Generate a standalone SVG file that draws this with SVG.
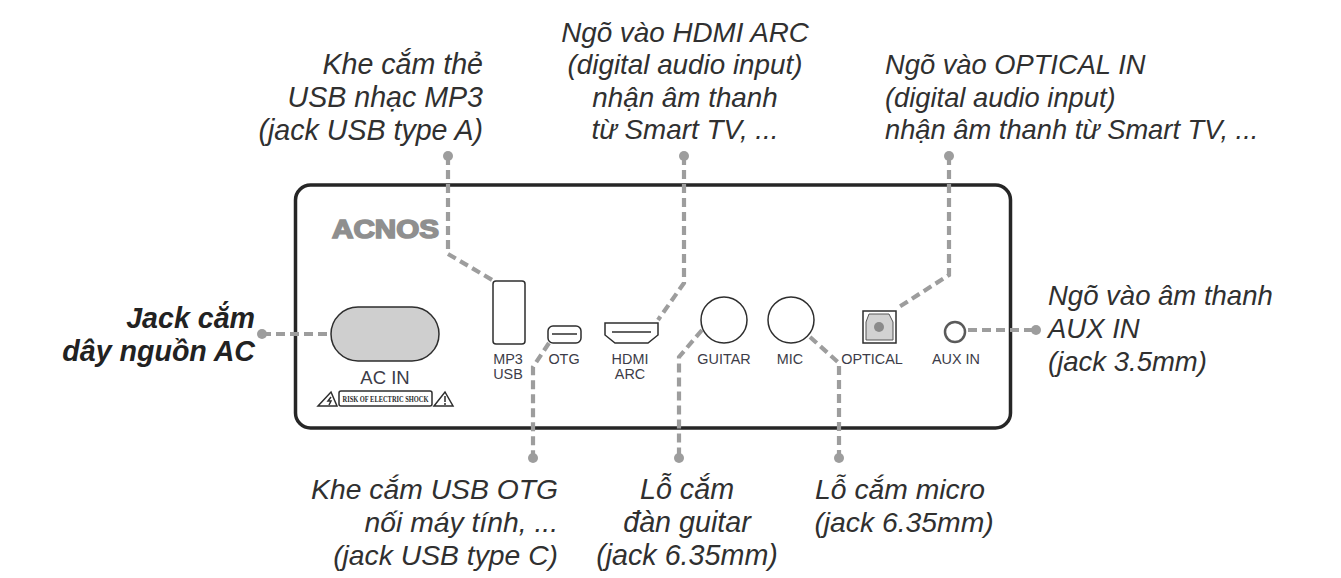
<svg xmlns="http://www.w3.org/2000/svg" width="1341" height="578" viewBox="0 0 1341 578">
<style>
text{font-family:"Liberation Sans",Arial,sans-serif;fill:#2b2b2b}
.c{font-style:italic;font-size:27.300px;fill:#303030}
.b{font-size:28.600px;font-weight:700;fill:#222}
.l{font-size:14.400px;fill:#3c3c48;text-anchor:middle}
.m{text-anchor:middle}.e{text-anchor:end}
.d{fill:none;stroke:#9d9d9d;stroke-width:4.2;stroke-dasharray:9 5}
.s{fill:none;stroke:#2e2e2e;stroke-width:1.5}
.dot{fill:#9d9d9d}
</style>
<rect width="1341" height="578" fill="#fff"/>
<g id="panel"><rect x="295.500" y="185" width="715" height="243" rx="15" fill="none" stroke="#262626" stroke-width="3.500"/></g>
<g id="connectors">
<path class="d" d="M448 156V254L494 281"/>
<path class="d" d="M684 156V283L658 320"/>
<path class="d" d="M949 156V275L899 307"/>
<path class="d" d="M262 334H331"/>
<path class="d" d="M968 330H1037"/>
<path class="d" d="M549 343L533 367V458"/>
<path class="d" d="M702 330L679 357V458"/>
<path class="d" d="M810 337L839 363V458"/>
<circle class="dot" cx="448" cy="156" r="5"/><circle class="dot" cx="684" cy="156" r="5"/><circle class="dot" cx="949" cy="156" r="5"/><circle class="dot" cx="262" cy="334" r="5"/><circle class="dot" cx="1036" cy="330" r="5"/><circle class="dot" cx="533" cy="458" r="5"/><circle class="dot" cx="679" cy="458" r="5"/><circle class="dot" cx="839" cy="458" r="5"/>
</g>
<g id="logo"><text x="332" y="238" font-size="26" font-weight="700" style="fill:#8f8f8f;stroke:#8f8f8f;stroke-width:1.6" textLength="107" lengthAdjust="spacingAndGlyphs">ACNOS</text></g>
<g id="ac-in"><rect x="331" y="307" width="108" height="54" rx="27" fill="#cfcfcf" stroke="#2e2e2e" stroke-width="1.500"/>
<text x="385" y="384" font-size="18.500" class="m" style="fill:#3c3c48">AC IN</text>
<path class="s" d="M318 406L331 392L337 406ZM434 406L445 392L453 406Z"/>
<rect x="339" y="391" width="93" height="15" rx="2" class="s"/>
<text x="385.500" y="402" font-size="8" font-weight="700" class="m" style="font-family:'Liberation Serif',serif" textLength="86" lengthAdjust="spacingAndGlyphs">RISK OF ELECTRIC SHOCK</text>
<path class="s" d="M331 397L328 401H331L329 405M445 396V402M445 403V405"/></g>
<g id="usb"><rect x="493" y="281" width="32" height="63" rx="3" class="s"/><text class="l" x="508" y="364">MP3</text><text class="l" x="508" y="379">USB</text></g>
<g id="otg"><rect x="548" y="326" width="33" height="17" rx="5" class="s"/><path class="s" d="M552 334H577"/><text class="l" x="564" y="364">OTG</text></g>
<g id="hdmi"><path class="s" d="M605 323H658V335L648 343H615L605 335Z"/><path class="s" d="M612 332H651"/><text class="l" x="630" y="364">HDMI</text><text class="l" x="630" y="379">ARC</text></g>
<g id="guitar"><circle cx="724" cy="320" r="23" class="s"/><text class="l" x="724" y="364">GUITAR</text></g>
<g id="mic"><circle cx="791" cy="320" r="23" class="s"/><text class="l" x="790" y="364">MIC</text></g>
<g id="optical"><rect x="863" y="311" width="33" height="32" class="s"/><path d="M869 314H889L893 322V340H866V322Z" fill="#d2d2d2" stroke="#555" stroke-width="1"/><circle cx="879" cy="327" r="5" fill="#8a8a8a"/><text class="l" x="872" y="364">OPTICAL</text></g>
<g id="aux"><circle cx="955" cy="332" r="10" fill="#fff" stroke="#5a5a5a" stroke-width="2.500"/><text class="l" x="956" y="364">AUX IN</text></g>
<g id="labels" transform="translate(0 1)">
<text class="c e" style="font-size:28.600px" x="483" y="73">Khe cắm thẻ</text><text class="c e" style="font-size:28.600px" x="483" y="106">USB nhạc MP3</text><text class="c e" style="font-size:28.600px" x="483" y="139">(jack USB type A)</text>
<text class="c m" style="font-size:27.800px" x="685" y="41">Ngõ vào HDMI ARC</text><text class="c m" style="font-size:27.800px" x="685" y="73">(digital audio input)</text><text class="c m" style="font-size:27.800px" x="685" y="106">nhận âm thanh</text><text class="c m" style="font-size:27.800px" x="685" y="138">từ Smart TV, ...</text>
<text class="c" x="885" y="73">Ngõ vào OPTICAL IN</text><text class="c" x="885" y="106">(digital audio input)</text><text class="c" x="885" y="138">nhận âm thanh từ Smart TV, ...</text>
<text class="c" style="font-size:27.500px" x="1048" y="304">Ngõ vào âm thanh</text><text class="c" style="font-size:27.500px" x="1048" y="337">AUX IN</text><text class="c" style="font-size:27.500px" x="1048" y="370">(jack 3.5mm)</text>
<text class="c b e" x="255" y="327">Jack cắm</text><text class="c b e" x="255" y="360">dây nguồn AC</text>
<text class="c e" style="font-size:28.300px" x="558" y="498">Khe cắm USB OTG</text><text class="c e" style="font-size:28.300px" x="558" y="531">nối máy tính, ...</text><text class="c e" style="font-size:28.300px" x="558" y="564">(jack USB type C)</text>
<text class="c m" style="font-size:28.700px" x="687" y="498">Lỗ cắm</text><text class="c m" style="font-size:28.700px" x="687" y="531">đàn guitar</text><text class="c m" style="font-size:28.700px" x="687" y="564">(jack 6.35mm)</text>
<text class="c m" style="font-size:28.300px" x="900" y="498">Lỗ cắm micro</text><text class="c m" style="font-size:28.300px" x="904" y="531">(jack 6.35mm)</text>
</g>
</svg>
